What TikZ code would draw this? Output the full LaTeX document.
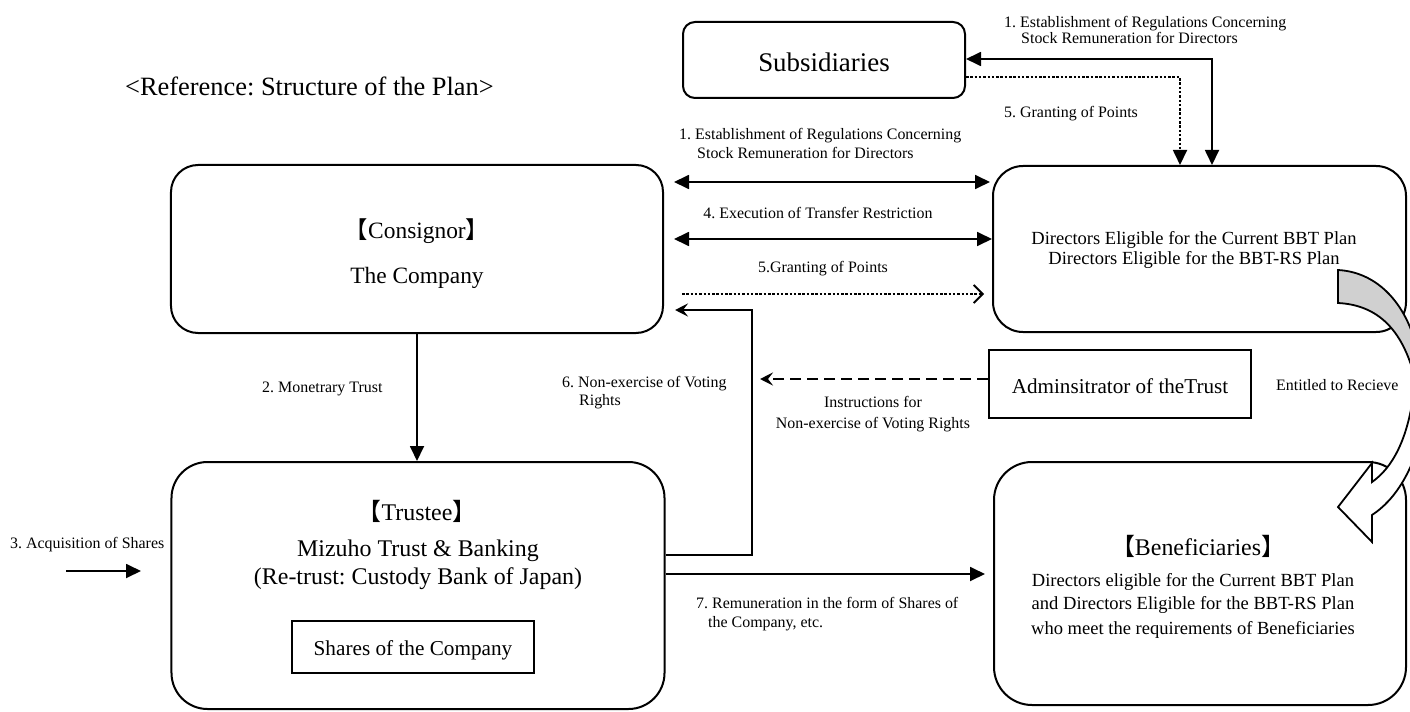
\documentclass[tikz,border=0pt]{standalone}
\usepackage{fontspec}
\setmainfont{Liberation Serif}
\newfontfamily\cjkfont{Noto Sans CJK JP}
\usetikzlibrary{arrows.meta,calc}
\definecolor{bandgray}{RGB}{208,208,208}
\frenchspacing
\begin{document}
\frenchspacing
\begin{tikzpicture}[x=1bp,y=-1bp,
  box/.style={draw, line width=2bp, inner sep=0pt},
  lbl/.style={inner sep=0pt, font=\fontsize{16}{19}\selectfont},
  conn/.style={line width=1.8bp},
  tri/.style={-{Triangle[length=15bp,width=14bp]}},
  dtri/.style={{Triangle[length=15bp,width=14bp]}-{Triangle[length=15bp,width=14bp]}},
  stl/.style={-{Stealth[length=13bp,width=13bp,inset=5bp]}},
  barb/.style={-{Straight Barb[length=9bp,width=18bp]}},
  dotline/.style={dash pattern=on 2.5bp off 1.8bp},
  dashline/.style={dash pattern=on 11bp off 6bp},
  band/.style={line width=1.8bp}
]
\useasboundingbox (0,0) rectangle (1410,711);

% ---------- boxes ----------
\node[box, rounded corners=12bp, minimum width=282bp, minimum height=76bp] (subs) at (824,60) {};
\node[box, rounded corners=27bp, minimum width=492bp, minimum height=168bp] (cons) at (417,249) {};
\node[box, rounded corners=30bp, minimum width=413bp, minimum height=166bp] (dir) at (1199.5,249) {};
\node[box, minimum width=262bp, minimum height=68bp] (adm) at (1120,384) {};
\node[box, rounded corners=36bp, minimum width=493bp, minimum height=247bp] (trus) at (418,585.5) {};
\node[box, minimum width=242bp, minimum height=52bp] (shr) at (413,647) {};
\node[box, rounded corners=38bp, minimum width=412bp, minimum height=243bp] (ben) at (1200,583.5) {};

% ---------- box texts ----------
\node[inner sep=0pt, anchor=base west, font=\fontsize{26.5}{30}\selectfont] (title) at (125,96) {<Reference: Structure of the Plan>};
\node[inner sep=0pt, anchor=base, font=\fontsize{27}{30}\selectfont] (subst) at (824,72) {Subsidiaries};
\node[inner sep=0pt, anchor=base, font=\fontsize{23.5}{28}\selectfont] (const1) at (417,238) {{\cjkfont 【}Consignor{\cjkfont 】}};
\node[inner sep=0pt, anchor=base, font=\fontsize{23.5}{28}\selectfont] (const2) at (417,283) {The Company};
\node[inner sep=0pt, anchor=base, font=\fontsize{18.6}{21}\selectfont] (dirt1) at (1194,244) {Directors Eligible for the Current BBT Plan};
\node[inner sep=0pt, anchor=base, font=\fontsize{18.6}{21}\selectfont] (dirt2) at (1194,264) {Directors Eligible for the BBT-RS Plan};
\node[inner sep=0pt, anchor=base, font=\fontsize{21.2}{25}\selectfont] (admt) at (1120,393) {Adminsitrator of theTrust};
\node[inner sep=0pt, anchor=base, font=\fontsize{24}{28}\selectfont] (trust1) at (417,520) {{\cjkfont 【}Trustee{\cjkfont 】}};
\node[inner sep=0pt, anchor=base, font=\fontsize{24}{28}\selectfont] (trust2) at (418,556) {Mizuho Trust \& Banking};
\node[inner sep=0pt, anchor=base, font=\fontsize{24}{28}\selectfont] (trust3) at (418,584) {(Re-trust: Custody Bank of Japan)};
\node[inner sep=0pt, anchor=base, font=\fontsize{21.3}{25}\selectfont] (shrt) at (413,655) {Shares of the Company};
\node[inner sep=0pt, anchor=base, font=\fontsize{24}{28}\selectfont] (bent0) at (1198,555) {{\cjkfont 【}Beneficiaries{\cjkfont 】}};
\node[inner sep=0pt, anchor=base, font=\fontsize{18.6}{21}\selectfont] (bent1) at (1193,586) {Directors eligible for the Current BBT Plan};
\node[inner sep=0pt, anchor=base, font=\fontsize{18.6}{21}\selectfont] (bent2) at (1193,609) {and Directors Eligible for the BBT-RS Plan};
\node[inner sep=0pt, anchor=base, font=\fontsize{18.6}{21}\selectfont] (bent3) at (1193,634) {who meet the requirements of Beneficiaries};

% ---------- labels ----------
\node[lbl, anchor=base west] (l1a) at (1004,27.5) {1. Establishment of Regulations Concerning};
\node[lbl, anchor=base west] (l1b) at (1021,44) {Stock Remuneration for Directors};
\node[lbl, anchor=base west] (l5a) at (1004,118) {5. Granting of Points};
\node[lbl, anchor=base west] (l1c) at (679,140) {1. Establishment of Regulations Concerning};
\node[lbl, anchor=base west] (l1d) at (697,158) {Stock Remuneration for Directors};
\node[lbl, anchor=base] (l4) at (818,218) {4. Execution of Transfer Restriction};
\node[lbl, anchor=base] (l5b) at (823,272) {5.Granting of Points};
\node[lbl, anchor=base west] (l2) at (262,392) {2. Monetrary Trust};
\node[lbl, anchor=base west] (l6a) at (562,387) {6. Non-exercise of Voting};
\node[lbl, anchor=base west] (l6b) at (579,405) {Rights};
\node[lbl, anchor=base] (lia) at (873,407) {Instructions for};
\node[lbl, anchor=base] (lib) at (873,428) {Non-exercise of Voting Rights};
\node[lbl, anchor=base west] (le) at (1276,390) {Entitled to Recieve};
\node[lbl, anchor=base west] (l7a) at (696,608) {7. Remuneration in the form of Shares of};
\node[lbl, anchor=base west] (l7b) at (708,627) {the Company, etc.};
\node[lbl, anchor=base west] (l3) at (10,548) {3. Acquisition of Shares};

% ---------- connectors ----------
\coordinate (q1) at (1212,59);
\draw[conn,dtri] (subs.east |- q1) -- (q1) -- (q1 |- dir.north);
\coordinate (q2) at (1180,77);
\draw[conn,dotline,tri] (subs.east |- q2) -- (q2) -- (q2 |- dir.north);

\coordinate (p1) at (674,182);
\draw[conn,dtri] (p1) -- ([xshift=-2bp]p1 -| dir.west);
\coordinate (p4) at (674,239);
\draw[conn,dtri] (p4) -- (p4 -| dir.west);
\coordinate (p5) at (682,294);
\draw[conn,dotline,barb] (p5) -- ([xshift=-8bp]p5 -| dir.west);

\coordinate (p6a) at (752,555);
\coordinate (p6b) at (752,310);
\draw[conn,stl] (trus.east |- p6a) -- (p6a) -- (p6b) -- ([xshift=11bp]p6b -| cons.east);

\coordinate (pi) at (760,379);
\draw[conn,dashline,stl] (pi -| adm.west) -- (pi);

\draw[conn,tri] (cons.south) -- (cons.south |- trus.north);

\coordinate (p3s) at (66,571);
\coordinate (p3e) at (141,571);
\draw[conn,tri] (p3s) -- (p3e);

\coordinate (p7) at (668,574);
\draw[conn,tri] (trus.east |- p7) -- ([xshift=-8bp]p7 -| ben.west);

% ---------- curved arrow ----------
\begin{scope}
\clip (0,0) rectangle (1410,711);
\draw[band, fill=bandgray] (1338,270) .. controls (1375,272) and (1404,300) .. (1416,345)
  -- (1416,375) -- (1414,375) .. controls (1402,330) and (1378,305) .. (1338,303) -- cycle;
\draw[band, fill=white] (1372,482) -- (1372,463) -- (1338,507) -- (1372,542) -- (1372,515)
  .. controls (1395,500) and (1415,470) .. (1425,420) -- (1430,385) -- (1414,390)
  .. controls (1408,440) and (1392,468) .. (1372,482) -- cycle;
\end{scope}
\end{tikzpicture}
\end{document}
